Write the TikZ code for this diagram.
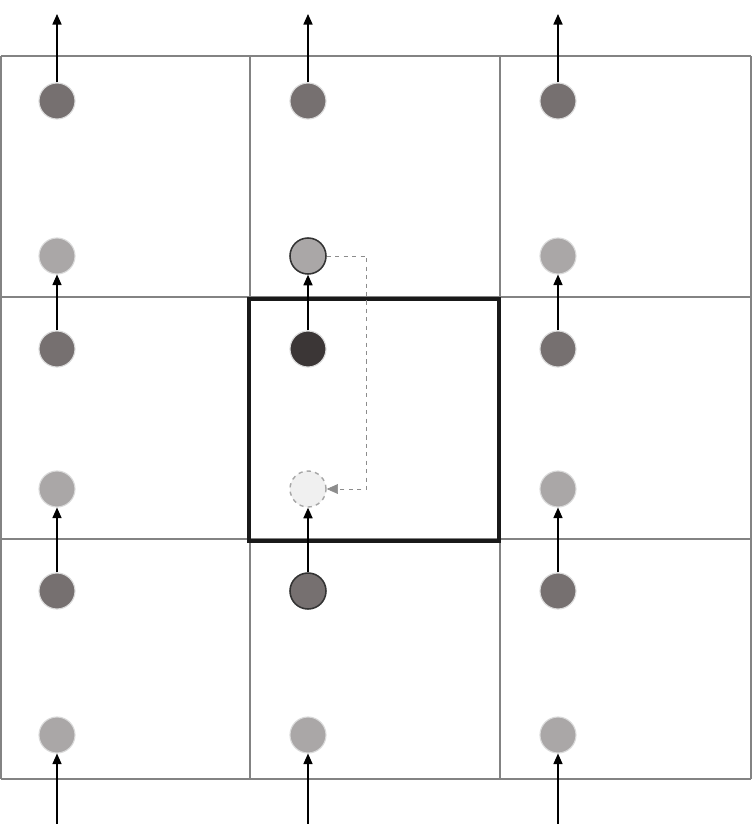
\documentclass[tikz,border=0pt]{standalone}
\usepackage{tikz}
\usetikzlibrary{arrows.meta,calc}
\definecolor{dotdark}{HTML}{767070}
\definecolor{dotlight}{HTML}{AAA7A7}
\definecolor{dotcore}{HTML}{3B3636}
\definecolor{dotghost}{HTML}{F0F0F0}
\definecolor{gridgray}{HTML}{838383}
\tikzstyle{cellline}  = [draw=gridgray, line width=1.4pt]
\tikzstyle{focusbox}  = [draw=black!90, line width=2.8pt]
\tikzstyle{pt}        = [circle, minimum size=0.9cm, inner sep=0pt, draw=black!15, line width=0.8pt]
\tikzstyle{ptdark}    = [pt, fill=dotdark]
\tikzstyle{ptlight}   = [pt, fill=dotlight]
\tikzstyle{ptedge}    = [draw=black!80, line width=1.1pt]
\tikzstyle{ptghost}   = [pt, fill=dotghost, draw=black!35, dashed, line width=1pt]
\tikzstyle{arrow}     = [line width=0.9pt, -{Triangle[length=7.5pt,width=6.5pt]}]
\tikzstyle{moveline}  = [draw=black!45, dashed, line width=0.5pt, -{Triangle[length=8pt,width=7pt]}]
\begin{document}
\begin{tikzpicture}[x=0.025cm,y=-0.025cm]
	\useasboundingbox (0,0) rectangle (752,824);

	% grid of cells
	\foreach \gx in {1,250,500,751}
		\draw[cellline] (\gx,56) -- (\gx,779);
	\foreach \gy in {56,297,539,779}
		\draw[cellline] (1,\gy) -- (751,\gy);
	\draw[focusbox] (249,299) rectangle (499,541);

	% outer columns
	\foreach \x/\i in {57/1,558/3} {
		\node[ptdark]  (a\i) at (\x,101) {};
		\node[ptlight] (b\i) at (\x,256) {};
		\node[ptdark]  (c\i) at (\x,349) {};
		\node[ptlight] (d\i) at (\x,489) {};
		\node[ptdark]  (e\i) at (\x,591) {};
		\node[ptlight] (f\i) at (\x,735) {};
		\coordinate (top\i) at (\x,14);
		\coordinate (bot\i) at (\x,824);
	}

	% middle column
	\node[ptdark]          (a2) at (308,101) {};
	\node[ptlight,ptedge]  (b2) at (308,256) {};
	\node[pt,fill=dotcore] (c2) at (308,349) {};
	\node[ptghost]         (d2) at (308,489) {};
	\node[ptdark,ptedge]   (e2) at (308,591) {};
	\node[ptlight]         (f2) at (308,735) {};
	\coordinate (top2) at (308,14);
	\coordinate (bot2) at (308,824);

	% streaming arrows
	\foreach \i in {1,2,3} {
		\draw[arrow] (a\i) -- (top\i);
		\draw[arrow] (c\i) -- (b\i);
		\draw[arrow] (e\i) -- (d\i);
		\draw[arrow] (bot\i) -- (f\i);
	}

	% bounce back
	\draw[moveline] (b2.east) -- ++(40,0) |- (d2.east);
\end{tikzpicture}
\end{document}
